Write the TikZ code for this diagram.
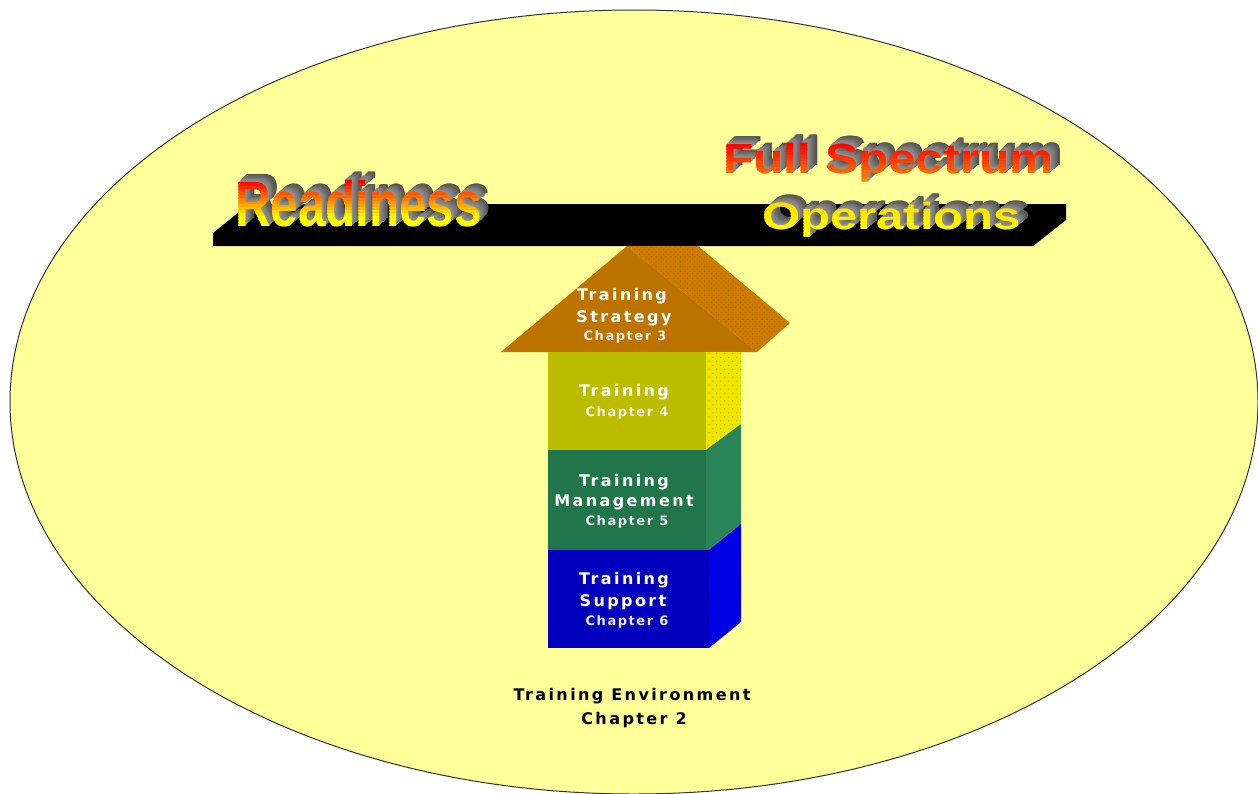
\documentclass[tikz,border=0pt]{standalone}
\usepackage{fontspec}
\usepackage{graphicx}
\usetikzlibrary{patterns.meta}
\newfontfamily\bannerfont{Liberation Sans}
\newfontfamily\labfont[LetterSpace=15]{DejaVu Sans}
\newfontfamily\chapfont[LetterSpace=12]{DejaVu Sans}
\definecolor{oval}{HTML}{FFFF99}
\definecolor{roofF}{HTML}{BD7300}
\definecolor{roofS}{HTML}{CC7A00}
\definecolor{yelF}{HTML}{BDBD00}
\definecolor{yelS}{HTML}{EEE600}
\definecolor{grnF}{HTML}{21754A}
\definecolor{grnS}{HTML}{2A845A}
\definecolor{bluF}{HTML}{0000BD}
\definecolor{bluS}{HTML}{0000E6}
\definecolor{FFrd}{HTML}{FF0000}
\definecolor{FFyl}{HTML}{FFFF00}
\definecolor{FFor}{HTML}{FFA000}
\definecolor{FFgo}{HTML}{FFDC00}
\tikzset{
  lab/.style={anchor=base,inner sep=0pt,text=white,font={\labfont\bfseries\fontsize{16}{16}\selectfont}},
  chap/.style={anchor=base,inner sep=0pt,text=white!92!black,font={\chapfont\bfseries\fontsize{13}{13}\selectfont}},
  envlab/.style={lab,text=black},
  banner/.style={anchor=base west,inner sep=0pt},
}
% #1 last strip y, #2 x, #3 baseline y, #4 x stretch, #5 font size, #6 text,
% #7 y of the first colour, #8 y of the second colour, #9 "colA/colB"
\newcommand{\gradtext}[9]{%
  \foreach \k in {10,...,1}{%
    \pgfmathtruncatemacro{\gr}{80+7*(10-\k)}%
    \definecolor{ext}{RGB}{\gr,\gr,\gr}%
    \node[banner,text=ext] at ({#2+0.95*\k},{#3-0.8*\k}) {\bannerfont\bfseries\fontsize{#5}{#5}\selectfont\scalebox{#4}[1]{#6}};
  }%
  \pgfmathtruncatemacro{\ya}{#7-3}%
  \pgfmathtruncatemacro{\yb}{#7}%
  \foreach \yy in {\ya,\yb,...,#1}{%
    \pgfmathsetmacro{\mx}{min(100,max(0,100*(\yy-#7)/(#8-#7)))}%
    \begin{scope}
      \clip (#2-5,\yy) rectangle (#2+400,\yy+3.4);
      \foreach \ca/\cb in {#9}{%
        \node[banner,text={\cb!\mx!\ca}] at (#2,#3) {\bannerfont\bfseries\fontsize{#5}{#5}\selectfont\scalebox{#4}[1]{#6}};
      }
    \end{scope}
  }%
}
\begin{document}
\begin{tikzpicture}[x=1pt,y=-1pt]
\useasboundingbox (0,0) rectangle (1258,793);
\begin{scope}
\clip (0,0) rectangle (1258,793);
\draw[fill=oval,draw=black!80,line width=1pt] (634,402) ellipse [x radius=624,y radius=392];
\end{scope}
% beam
\fill[black] (213,246) -- (213,233) -- (249,204) -- (1066,204) -- (1066,220) -- (1033,246) -- cycle;
% roof
\fill[roofS] (627,246) -- (698,246) -- (790,323) -- (757,352) -- cycle;
\fill[pattern={Dots[radius=0.55pt,distance=3.4pt,angle=45]},pattern color=roofF!90!black] (627,246) -- (698,246) -- (790,323) -- (757,352) -- cycle;
\fill[roofF] (501,352) -- (627,246) -- (757,352) -- cycle;
% yellow block
\fill[yelF] (548,352) rectangle (706,450);
\fill[yelS] (706,352) -- (741,352) -- (741,424) -- (706,450) -- cycle;
\fill[pattern={Dots[radius=0.7pt,distance=5.6pt,angle=45]},pattern color=yelF] (706,352) -- (741,352) -- (741,424) -- (706,450) -- cycle;
% green block
\fill[grnF] (548,450) rectangle (706,550);
\fill[grnS] (706,450) -- (741,424) -- (741,524) -- (709,550) -- (706,550) -- cycle;
% blue block
\fill[bluF] (548,550) rectangle (709,648);
\fill[bluS] (709,550) -- (741,524) -- (741,622) -- (709,648) -- cycle;
\fill[pattern={Dots[radius=0.5pt,distance=3.4pt,angle=45]},pattern color=bluF] (709,550) -- (741,524) -- (741,622) -- (709,648) -- cycle;
% banner text
\gradtext{228}{235}{226}{0.77}{64}{Readiness}{180}{216}{FFrd/FFyl}
\gradtext{186}{723}{173}{1.18}{42}{Full Spectrum}{143}{186}{FFrd/FFor}
\gradtext{240}{762}{229}{1.29}{38}{Operations}{202}{232}{FFgo/FFyl}
% labels
\node[lab] (ts1) at (622,300) {Training};
\node[lab] (ts2) at (624,322) {Strategy};
\node[chap] (ts3) at (625,340) {Chapter 3};
\node[lab] (tr1) at (624,396) {Training};
\node[chap] (tr2) at (627,416) {Chapter 4};
\node[lab] (tm1) at (624,486) {Training};
\node[lab] (tm2) at (624,506) {Management};
\node[chap] (tm3) at (627,525) {Chapter 5};
\node[lab] (su1) at (624,584) {Training};
\node[lab] (su2) at (623,606) {Support};
\node[chap] (su3) at (627,625) {Chapter 6};
\node[envlab] (en1) at (632,700) {Training Environment};
\node[envlab] (en2) at (634,724) {Chapter 2};
\end{tikzpicture}
\end{document}
